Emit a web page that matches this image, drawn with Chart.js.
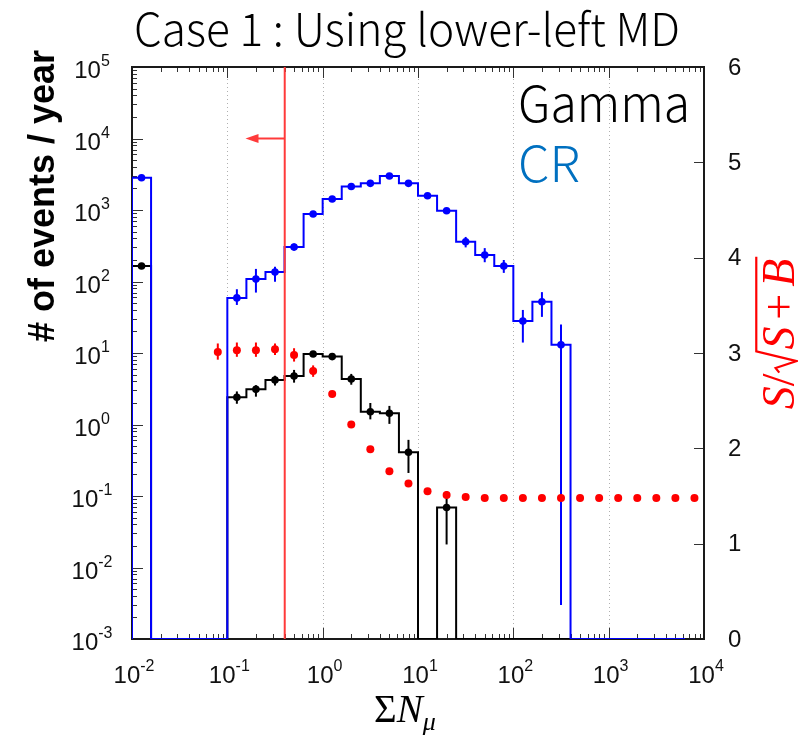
<!DOCTYPE html>
<html>
<head>
<meta charset="utf-8">
<script src="https://cdn.jsdelivr.net/npm/chart.js@4.4.0/dist/chart.umd.min.js"></script>
<style>
  html, body { margin: 0; padding: 0; background: #fff; }
</style>
</head>
<body>
<canvas id="chart" width="798" height="741"></canvas>
<script>
// Histogram bin edges, as log10 exponents (0.2 decade bins)
const edgeExp = [-2.0, -1.8, -1.6, -1.4, -1.2, -1.0, -0.8, -0.6, -0.4, -0.2,
  0.0, 0.2, 0.4, 0.6, 0.8, 1.0, 1.2, 1.4, 1.6, 1.8,
  2.0, 2.2, 2.4, 2.6, 2.8, 3.0, 3.2, 3.4, 3.6, 3.8];

// CR (blue) events / year per bin
const cosmic = [2830, 0, 0, 0, 0, 59, 108, 136, 304, 879,
  1425, 2130, 2360, 2990, 2360, 1585, 977, 360, 235, 165,
  28, 52, 13, 0, 0, 0, 0, 0, 0];
// error bar ends (null = hidden behind the marker)
const cosmicLo = [null, null, null, null, null, 47, 70, 99, 270, null,
  null, null, null, null, null, null, null, 300, 186, 132,
  14, 32, 0.003, null, null, null, null, null, null];
const cosmicHi = [null, null, null, null, null, 78, 150, 161, 340, null,
  null, null, null, null, null, null, null, 420, 293, 200,
  40, 71, 25, null, null, null, null, null, null];

// Gamma (black) events / year per bin
const gamma = [165, 0, 0, 0, 0, 2.4, 3.1, 4.19, 4.77, 9.7,
  8.9, 4.33, 1.51, 1.44, 0.41, 0, 0.069, 0, 0, 0,
  0, 0, 0, 0, 0, 0, 0, 0, 0];
const gammaLo = [null, null, null, null, null, 1.95, 2.45, 3.5, 3.85, null,
  null, 3.6, 1.18, 1.02, 0.21, null, 0.021, null, null, null,
  null, null, null, null, null, null, null, null, null];
const gammaHi = [null, null, null, null, null, 2.9, 3.55, 4.8, 5.8, null,
  null, 5.1, 2.0, 1.82, 0.61, null, 0.117, null, null, null,
  null, null, null, null, null, null, null, null, null];

// S / sqrt(S + B) (red, right axis) at bin centres
const ratioExp = [-1.1, -0.9, -0.7, -0.5, -0.3, -0.1, 0.1, 0.3, 0.5, 0.7,
  0.9, 1.1, 1.3, 1.5, 1.7, 1.9, 2.1, 2.3, 2.5, 2.7,
  2.9, 3.1, 3.3, 3.5, 3.7, 3.9];
const ratio = [3.01, 3.03, 3.03, 3.04, 2.98, 2.81, 2.57, 2.25, 1.99, 1.76,
  1.63, 1.55, 1.51, 1.49, 1.48, 1.48, 1.48, 1.48, 1.48, 1.48,
  1.48, 1.48, 1.48, 1.48, 1.48, 1.48];
const ratioLo = [2.93, 2.96, 2.96, 2.98, 2.91, 2.75];
const ratioHi = [3.10, 3.11, 3.11, 3.10, 3.05, 2.87];

const xMin = 1e-2, xMax = 1e4;
const yMin = 1e-3, yMax = 1e5;
const y2Max = 6;
const cutValue = 0.4;      // lower-left MD cut
const arrowTo = 0.155;     // arrow tip
const arrowY = 1e4;

const xTickExp = [-2, -1, 0, 1, 2, 3, 4];
const yTickExp = [-3, -2, -1, 0, 1, 2, 3, 4, 5];
const y2Ticks = [0, 1, 2, 3, 4, 5, 6];

const edges = edgeExp.map(e => Math.pow(10, e));
const centers = edges.slice(0, -1).map((e, i) => Math.sqrt(e * edges[i + 1]));
// histogram outline: zero bins sit on the bottom of the axis
function histPoints(vals) {
  const pts = [{ x: edges[0], y: yMin }];
  vals.forEach((v, i) => pts.push({ x: edges[i], y: v > 0 ? v : yMin }));
  pts.push({ x: edges[edges.length - 1], y: yMin });
  return pts;
}
function markerPoints(vals) {
  return vals.map((v, i) => ({ x: centers[i], y: v > 0 ? v : null }));
}

const errorBars = {
  id: 'errorBars',
  beforeDatasetDraw(chart, args) {
    const ds = chart.data.datasets[args.index];
    if (!ds.errLo) return;
    const ctx = chart.ctx;
    const xs = chart.scales[args.meta.xAxisID], ys = chart.scales[args.meta.yAxisID];
    ctx.save();
    ctx.strokeStyle = ds.backgroundColor;
    ctx.lineWidth = 2;
    ds.data.forEach((p, i) => {
      const lo = ds.errLo[i], hi = ds.errHi[i];
      if (lo == null || hi == null || p.y == null) return;
      const px = xs.getPixelForValue(p.x);
      ctx.beginPath();
      ctx.moveTo(px, ys.getPixelForValue(lo));
      ctx.lineTo(px, ys.getPixelForValue(hi));
      ctx.stroke();
    });
    ctx.restore();
  }
};

function powLabel(ctx, exp, cx, baseY, big, small, rise) {
  const e = String(exp);
  ctx.font = big + 'px "Liberation Sans", Arial, sans-serif';
  const w1 = ctx.measureText('10').width;
  ctx.font = small + 'px "Liberation Sans", Arial, sans-serif';
  const w2 = ctx.measureText(e).width;
  const x0 = cx - (w1 + w2) / 2;
  ctx.textAlign = 'left';
  ctx.textBaseline = 'alphabetic';
  ctx.font = big + 'px "Liberation Sans", Arial, sans-serif';
  ctx.fillText('10', x0, baseY);
  ctx.font = small + 'px "Liberation Sans", Arial, sans-serif';
  ctx.fillText(e, x0 + w1, baseY - rise);
}

function fitText(ctx, str, x, y, width, font) {
  ctx.font = font;
  const w = ctx.measureText(str).width;
  ctx.save();
  ctx.translate(x, y);
  ctx.scale(width / w, 1);
  ctx.textAlign = 'left';
  ctx.fillText(str, 0, 0);
  ctx.restore();
}

const decor = {
  id: 'decor',
  beforeDatasetsDraw(chart) {
    const { ctx, chartArea: a } = chart;
    const xs = chart.scales.x, ys = chart.scales.y, y2 = chart.scales.y2;
    ctx.save();
    // dotted decade grid
    ctx.strokeStyle = '#b0b0b0';
    ctx.lineWidth = 1;
    ctx.setLineDash([1, 3]);
    xTickExp.slice(1, -1).forEach(e => {
      const px = Math.round(xs.getPixelForValue(Math.pow(10, e))) + 0.5;
      ctx.beginPath(); ctx.moveTo(px, a.top); ctx.lineTo(px, a.bottom); ctx.stroke();
    });
    ctx.setLineDash([]);
    // log ticks
    ctx.strokeStyle = '#333';
    ctx.lineWidth = 1;
    for (let k = 0; k < xTickExp.length - 1; k++) {
      for (let m = 1; m <= 9; m++) {
        const px = Math.round(xs.getPixelForValue(m * Math.pow(10, xTickExp[k]))) + 0.5;
        const len = m === 1 ? 11 : 5;
        ctx.beginPath(); ctx.moveTo(px, a.bottom); ctx.lineTo(px, a.bottom - len); ctx.stroke();
        ctx.beginPath(); ctx.moveTo(px, a.top); ctx.lineTo(px, a.top + len); ctx.stroke();
      }
    }
    for (let k = 0; k < yTickExp.length - 1; k++) {
      for (let m = 1; m <= 9; m++) {
        const py = Math.round(ys.getPixelForValue(m * Math.pow(10, yTickExp[k]))) + 0.5;
        const len = m === 1 ? 11 : 5;
        ctx.beginPath(); ctx.moveTo(a.left, py); ctx.lineTo(a.left + len, py); ctx.stroke();
      }
    }
    y2Ticks.forEach(v => {
      const py = Math.round(y2.getPixelForValue(v)) + 0.5;
      ctx.beginPath(); ctx.moveTo(a.right, py); ctx.lineTo(a.right - 10, py); ctx.stroke();
    });
    // frame
    ctx.strokeStyle = '#1a1a1a';
    ctx.lineWidth = 2;
    ctx.strokeRect(a.left, a.top, a.right - a.left, a.bottom - a.top);
    ctx.restore();
  },
  afterDatasetsDraw(chart) {
    const { ctx } = chart;
    const xs = chart.scales.x, ys = chart.scales.y;
    const x0 = xs.getPixelForValue(cutValue), x1 = xs.getPixelForValue(arrowTo);
    const py = ys.getPixelForValue(arrowY);
    ctx.save();
    ctx.strokeStyle = '#ff3a3a';
    ctx.fillStyle = '#ff3a3a';
    ctx.lineWidth = 2;
    ctx.beginPath(); ctx.moveTo(x0, py); ctx.lineTo(x1 + 8, py); ctx.stroke();
    ctx.beginPath();
    ctx.moveTo(x1, py); ctx.lineTo(x1 + 13, py - 4.5); ctx.lineTo(x1 + 13, py + 4.5);
    ctx.closePath(); ctx.fill();
    ctx.restore();
  },
  afterDraw(chart) {
    const { ctx, chartArea: a } = chart;
    const xs = chart.scales.x, ys = chart.scales.y, y2 = chart.scales.y2;
    ctx.save();
    ctx.fillStyle = '#111';
    // tick labels
    xTickExp.forEach(e => powLabel(ctx, e, xs.getPixelForValue(Math.pow(10, e)) + 2, 683, 24, 16, 12));
    yTickExp.forEach(e => powLabel(ctx, e, 92, ys.getPixelForValue(Math.pow(10, e)) + 11, 24, 16, 12));
    ctx.font = '24px "Liberation Sans", Arial, sans-serif';
    ctx.textAlign = 'left';
    ctx.textBaseline = 'middle';
    y2Ticks.forEach(v => ctx.fillText(String(v), 728, y2.getPixelForValue(v) + 1));
    ctx.textBaseline = 'alphabetic';

    // title and legend
    ctx.fillStyle = '#000';
    fitText(ctx, 'Case 1 : Using lower-left MD', 134, 46, 546, '300 45px "Noto Sans CJK JP", "Noto Sans", sans-serif');
    fitText(ctx, 'Gamma', 518, 122, 172, '300 50px "Noto Sans CJK JP", "Noto Sans", sans-serif');
    ctx.fillStyle = '#0070c0';
    fitText(ctx, 'CR', 518, 182, 62, '300 50px "Noto Sans CJK JP", "Noto Sans", sans-serif');

    // left axis title
    ctx.fillStyle = '#000';
    ctx.save();
    ctx.translate(54, 196);
    ctx.rotate(-Math.PI / 2);
    ctx.font = 'bold 36px "Liberation Sans", Arial, sans-serif';
    ctx.textAlign = 'center';
    ctx.fillText('# of events / year', 0, 0);
    ctx.restore();

    // x axis title: Sigma N_mu
    const serif = '"Liberation Serif", "DejaVu Serif", serif';
    ctx.font = '39px ' + serif;
    const wSig = ctx.measureText('\u03A3').width;
    ctx.font = 'italic 39px ' + serif;
    const wN = ctx.measureText('N').width;
    ctx.font = 'italic 26px ' + serif;
    const wMu = ctx.measureText('\u03BC').width;
    let tx = 405 - (wSig + wN + wMu) / 2;
    ctx.textAlign = 'left';
    ctx.font = '39px ' + serif; ctx.fillText('\u03A3', tx, 722); tx += wSig;
    ctx.font = 'italic 39px ' + serif; ctx.fillText('N', tx, 722); tx += wN;
    ctx.font = 'italic 26px ' + serif; ctx.fillText('\u03BC', tx, 730);

    // right axis title: S / sqrt(S + B)
    ctx.save();
    ctx.fillStyle = '#ff0000';
    ctx.strokeStyle = '#ff0000';
    ctx.translate(794, 334);
    ctx.rotate(-Math.PI / 2);
    const fs = 46;
    ctx.font = 'italic ' + fs + 'px ' + serif;
    const wS = ctx.measureText('S').width, wB = ctx.measureText('B').width;
    ctx.font = fs + 'px ' + serif;
    const wSl = ctx.measureText('/').width, wPl = ctx.measureText('+').width + 0.3 * fs;
    const wRad = 0.52 * fs;
    const total = wS + wSl + wRad + wS + wPl + wB;
    let rx = -total / 2;
    const endX = total / 2 + 2;
    ctx.font = 'italic ' + fs + 'px ' + serif; ctx.fillText('S', rx, 0); rx += wS;
    ctx.font = fs + 'px ' + serif; ctx.fillText('/', rx, 0); rx += wSl;
    const topY = -0.82 * fs;
    ctx.lineWidth = 2.2;
    ctx.beginPath();
    ctx.moveTo(rx + 0.02 * fs, -0.32 * fs);
    ctx.lineTo(rx + 0.12 * fs, -0.4 * fs);
    ctx.lineTo(rx + 0.27 * fs, 0.06 * fs);
    ctx.lineTo(rx + 0.48 * fs, topY);
    ctx.lineTo(endX, topY);
    ctx.stroke();
    rx += wRad;
    ctx.font = 'italic ' + fs + 'px ' + serif; ctx.fillText('S', rx, 0); rx += wS;
    ctx.font = fs + 'px ' + serif; ctx.fillText('+', rx + 0.15 * fs, 0); rx += wPl;
    ctx.font = 'italic ' + fs + 'px ' + serif; ctx.fillText('B', rx, 0);
    ctx.restore();
    ctx.restore();
  }
};

const blue = '#0000ff', black = '#000000', red = '#ff0000';

new Chart(document.getElementById('chart'), {
  type: 'line',
  data: {
    datasets: [
      {
        label: 'S/sqrt(S+B)', yAxisID: 'y2', order: 1,
        data: ratioExp.map((e, i) => ({ x: Math.pow(10, e), y: ratio[i] })),
        errLo: ratioLo, errHi: ratioHi,
        showLine: false, pointRadius: 4, pointBackgroundColor: red, pointBorderWidth: 0,
        backgroundColor: red, borderColor: red
      },
      {
        label: 'cut', yAxisID: 'y', order: 2,
        data: [{ x: cutValue, y: yMin }, { x: cutValue, y: yMax }],
        borderColor: '#ff3a3a', borderWidth: 2, pointRadius: 0
      },
      {
        label: 'CR points', yAxisID: 'y', order: 3,
        data: markerPoints(cosmic), errLo: cosmicLo, errHi: cosmicHi,
        showLine: false, pointRadius: 3.8, pointBackgroundColor: blue, pointBorderWidth: 0,
        backgroundColor: blue, borderColor: blue
      },
      {
        label: 'CR', yAxisID: 'y', order: 4,
        data: histPoints(cosmic), stepped: 'before',
        borderColor: blue, borderWidth: 2, pointRadius: 0, fill: false
      },
      {
        label: 'Gamma points', yAxisID: 'y', order: 5,
        data: markerPoints(gamma), errLo: gammaLo, errHi: gammaHi,
        showLine: false, pointRadius: 3.8, pointBackgroundColor: black, pointBorderWidth: 0,
        backgroundColor: black, borderColor: black
      },
      {
        label: 'Gamma', yAxisID: 'y', order: 6,
        data: histPoints(gamma), stepped: 'before',
        borderColor: black, borderWidth: 2, pointRadius: 0, fill: false
      }
    ]
  },
  options: {
    responsive: false,
    animation: false,
    devicePixelRatio: 1,
    layout: { padding: { top: 67, left: 0, right: 0, bottom: 0 } },
    plugins: { legend: { display: false }, tooltip: { enabled: false }, title: { display: false } },
    scales: {
      x: {
        type: 'logarithmic', min: xMin, max: xMax, position: 'bottom',
        grid: { display: false }, border: { display: false }, ticks: { display: false },
        afterFit: s => { s.height = 102; }
      },
      y: {
        type: 'logarithmic', min: yMin, max: yMax, position: 'left',
        grid: { display: false }, border: { display: false }, ticks: { display: false },
        afterFit: s => { s.width = 132; }
      },
      y2: {
        type: 'linear', min: 0, max: y2Max, position: 'right',
        grid: { display: false }, border: { display: false }, ticks: { display: false },
        afterFit: s => { s.width = 94; }
      }
    }
  },
  plugins: [errorBars, decor]
});
</script>
</body>
</html>
